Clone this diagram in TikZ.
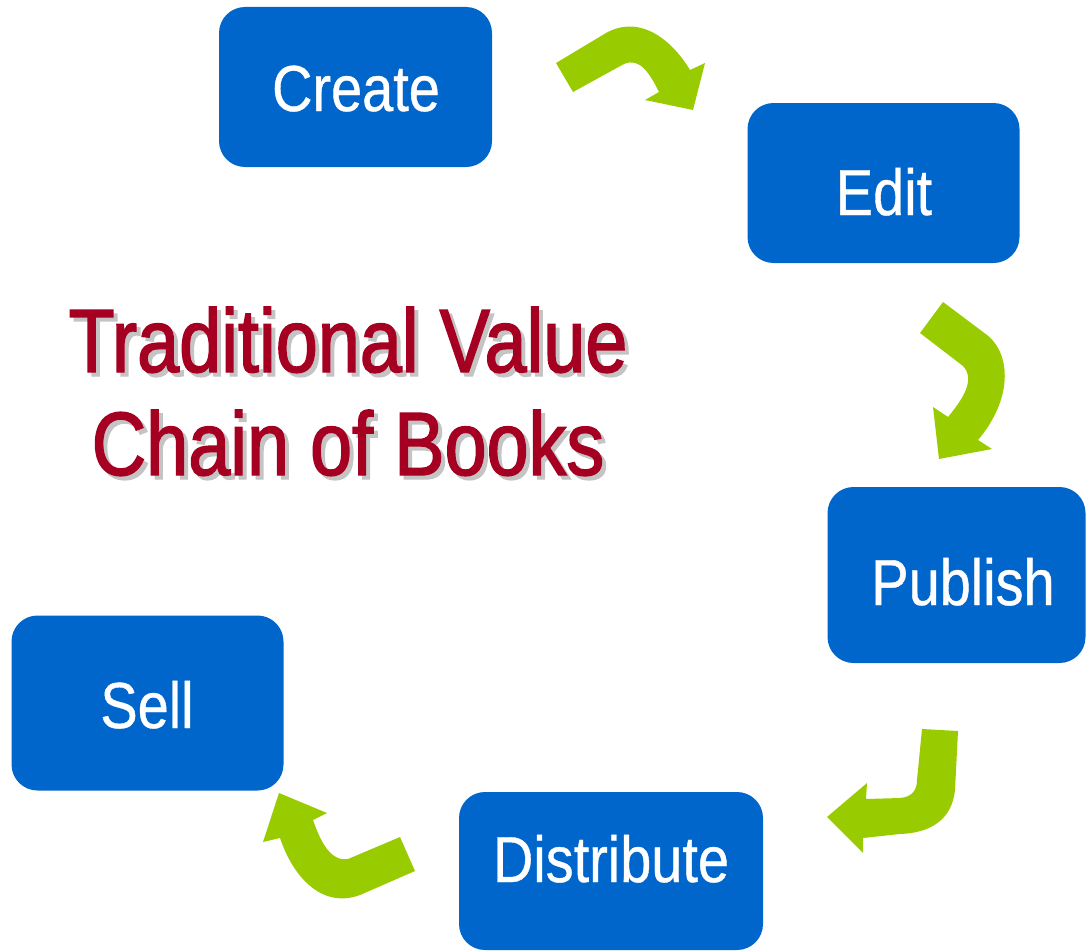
\documentclass[tikz,border=0pt]{standalone}
\usepackage{fontspec}
\newfontfamily\narrowfont[FakeStretch=0.86,FakeBold=0.6]{Liberation Sans}
\newfontfamily\titlefont[FakeStretch=0.84,FakeBold=1.6]{Liberation Sans}
\definecolor{boxblue}{HTML}{0066CC}
\definecolor{arrowgreen}{HTML}{99CC00}
\definecolor{titlered}{HTML}{A50021}
\definecolor{shadowgray}{HTML}{C4C4C4}
\begin{document}
\begin{tikzpicture}[x=1pt,y=-1pt,
  stagebox/.style={fill=boxblue, draw=none, rounded corners=26pt, inner sep=0pt},
  stagelabel/.style={anchor=base, inner sep=0pt, text=white, font=\narrowfont\fontsize{65}{72}\selectfont},
  titletext/.style={anchor=base, inner sep=0pt, font=\titlefont\fontsize{90}{98}\selectfont},
  blockarrow/.style={fill=arrowgreen, draw=none}]
\useasboundingbox (0,0) rectangle (1086,950);
% boxes
\node[stagebox, minimum width=273pt, minimum height=160pt] (create) at (355.5,87) {};
\node[stagebox, minimum width=272pt, minimum height=160pt] (edit) at (883.5,183) {};
\node[stagebox, minimum width=258pt, minimum height=176pt] (publish) at (956.5,575) {};
\node[stagebox, minimum width=272pt, minimum height=175pt] (sell) at (147.5,703) {};
\node[stagebox, minimum width=304pt, minimum height=158pt] (distribute) at (611,871) {};
% labels
\node[stagelabel] (tcreate) at (356,111) {Create};
\node[stagelabel] (tedit) at (884,215) {Edit};
\node[stagelabel] (tpublish) at (963,605) {Publish};
\node[stagelabel] (tsell) at (147,728) {Sell};
\node[stagelabel] (tdistribute) at (611,882) {Distribute};
% title with shadow
\node[titletext, text=shadowgray] (t1s) at (352,376) {Traditional Value};
\node[titletext, text=shadowgray] (t2s) at (352,479) {Chain of Books};
\node[titletext, text=titlered] (t1) at (348,372) {Traditional Value};
\node[titletext, text=titlered] (t2) at (348,475) {Chain of Books};
% curved block arrows
\fill[blockarrow] (556,63) -- (606,33) .. controls (640,14) and (672,40) .. (690,70)
  -- (705,63) -- (693,110) -- (645,100) -- (659,92)
  .. controls (650,74) and (640,57) .. (624,64) -- (573,92) -- cycle;
\fill[blockarrow] (943,302) -- (987,335) .. controls (1012,355) and (1012,400) .. (978,440)
  -- (992,449) -- (939,459) -- (933,407) -- (948,417)
  .. controls (962,400) and (976,380) .. (963,366) -- (920,333) -- cycle;
\fill[blockarrow] (922,729) -- (958,731) -- (955,790) .. controls (952,820) and (930,833) .. (900,834)
  -- (863,838) -- (863,853) -- (827,817) -- (867,783) -- (866,799) -- (900,798)
  .. controls (912,797) and (917,790) .. (917,780) -- cycle;
\fill[blockarrow] (400,837) -- (415,871) -- (360,895) .. controls (325,908) and (295,882) .. (280,838)
  -- (263,842) -- (279,793) -- (327,813) -- (313,820)
  .. controls (320,840) and (330,862) .. (348,859) -- cycle;
\end{tikzpicture}
\end{document}
